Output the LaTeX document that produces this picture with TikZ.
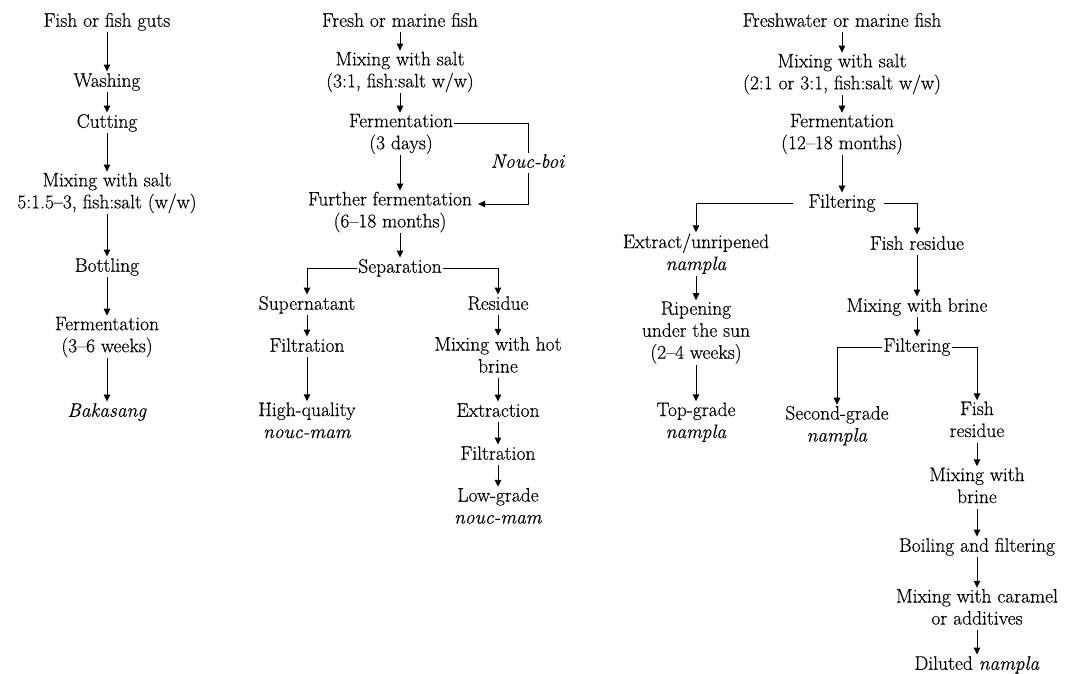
\documentclass[tikz,border=0pt]{standalone}
\usepackage{fontspec}
\setmainfont{Latin Modern Roman}[FakeBold=0.35]
\usetikzlibrary{arrows.meta}
\newcommand\lstrut{\rule[-4.5pt]{0pt}{18.5pt}}
\tikzset{
  box/.style={font=\fontsize{19.5}{22}\selectfont, align=center, inner xsep=1pt, inner ysep=1pt,
    execute at begin node=\lstrut, execute at end node=\lstrut},
  arr/.style={line width=0.95pt, -{Triangle[length=7pt,width=6.5pt]}},
  ln/.style={line width=0.95pt}
}
\begin{document}
\begin{tikzpicture}[x=1pt,y=-1pt]
\useasboundingbox (0,0) rectangle (1072,673);
% column 1
\node[box] (a1) at (107,22) {Fish or fish guts};
\node[box] (a2) at (107,82) {Washing};
\node[box] (a3) at (107,123) {Cutting};
\node[box] (a4) at (107,193) {Mixing with salt\\5:1.5–3, fish:salt (w/w)};
\node[box] (a5) at (107,267) {Bottling};
\node[box] (a6) at (107,337) {Fermentation\\(3–6 weeks)};
\node[box] (a7) at (107,412) {\textit{Bakasang}};
\draw[arr] (a1) -- (a2);
\draw[arr] (a2) -- (a3);
\draw[arr] (a3) -- (a4);
\draw[arr] (a4) -- (a5);
\draw[arr] (a5) -- (a6);
\draw[arr] (a6) -- (a7);
% column 2
\node[box] (b1) at (400,22) {Fresh or marine fish};
\node[box] (b2) at (400,72) {Mixing with salt\\(3:1, fish:salt w/w)};
\node[box] (b3) at (401,134) {Fermentation\\(3 days)};
\node[box] (b4) at (390,212) {Further fermentation\\(6–18 months)};
\node[box] (nb) at (528,163) {\textit{Nouc-boi}};
\node[box] (b5) at (400,268) {Separation};
\node[box] (b6) at (307,305) {Supernatant};
\node[box] (b7) at (307,347) {Filtration};
\node[box] (b8) at (307,422.5) {High-quality\\\textit{nouc-mam}};
\node[box] (b9) at (498,305) {Residue};
\node[box] (b10) at (498,357) {Mixing with hot\\brine};
\node[box] (b11) at (498,412) {Extraction};
\node[box] (b12) at (498,455) {Filtration};
\node[box] (b13) at (498,508) {Low-grade\\\textit{nouc-mam}};
\draw[arr] (b1) -- (b2);
\draw[arr] (b2.south) -- (b2.south |- b3.north);
\draw[arr] (b2.south |- b3.south) -- (b2.south |- b4.north);
\draw[arr] (b5.north |- b4.south) -- (b5.north);
\draw[ln] ([yshift=11pt]b3.east) -| (nb.north);
\draw[arr] (nb.south) |- ([xshift=5pt,yshift=8pt]b4.east);
\draw[arr] (b5.west) -| (b6.north);
\draw[arr] (b5.east) -| (b9.north);
\draw[arr] (b6) -- (b7);
\draw[arr] (b7) -- (b8);
\draw[arr] (b9) -- (b10);
\draw[arr] (b10) -- (b11);
\draw[arr] (b11) -- (b12);
\draw[arr] (b12) -- (b13);
% column 3
\node[box] (c1) at (842,22) {Freshwater or marine fish};
\node[box] (c2) at (842,74) {Mixing with salt\\(2:1 or 3:1, fish:salt w/w)};
\node[box] (c3) at (842,134) {Fermentation\\(12–18 months)};
\node[box] (c4) at (842,203) {Filtering};
\node[box] (c5) at (696,254) {Extract/unripened\\\textit{nampla}};
\node[box] (c6) at (696,332.5) {Ripening\\under the sun\\(2–4 weeks)};
\node[box] (c7) at (696,422.5) {Top-grade\\\textit{nampla}};
\node[box] (c8) at (917,245) {Fish residue};
\node[box] (c9) at (917,307) {Mixing with brine};
\node[box] (c10) at (917,347) {Filtering};
\node[box] (c11) at (837,426) {Second-grade\\\textit{nampla}};
\node[box] (c12) at (977,421.5) {Fish\\residue};
\node[box] (c13) at (977,487.5) {Mixing with\\brine};
\node[box] (c14) at (977,547) {Boiling and filtering};
\node[box] (c15) at (977,609) {Mixing with caramel\\or additives};
\node[box] (c16) at (977,665) {Diluted \textit{nampla}};
\draw[arr] (c1) -- (c2);
\draw[arr] (c2) -- (c3);
\draw[arr] (c3) -- (c4);
\draw[arr] ([xshift=-14pt]c4.west) -| (c5.north);
\draw[arr] ([xshift=7pt]c4.east) -| (c8.north);
\draw[arr] (c5) -- (c6);
\draw[arr] (c6) -- (c7);
\draw[arr] (c8) -- (c9);
\draw[arr] (c9) -- (c10);
\draw[arr] (c10.west) -| (c11.north);
\draw[arr] (c10.east) -| (c12.north);
\draw[arr] (c12) -- (c13);
\draw[arr] (c13) -- (c14);
\draw[arr] (c14) -- (c15);
\draw[arr] (c15) -- (c16);
\end{tikzpicture}
\end{document}
